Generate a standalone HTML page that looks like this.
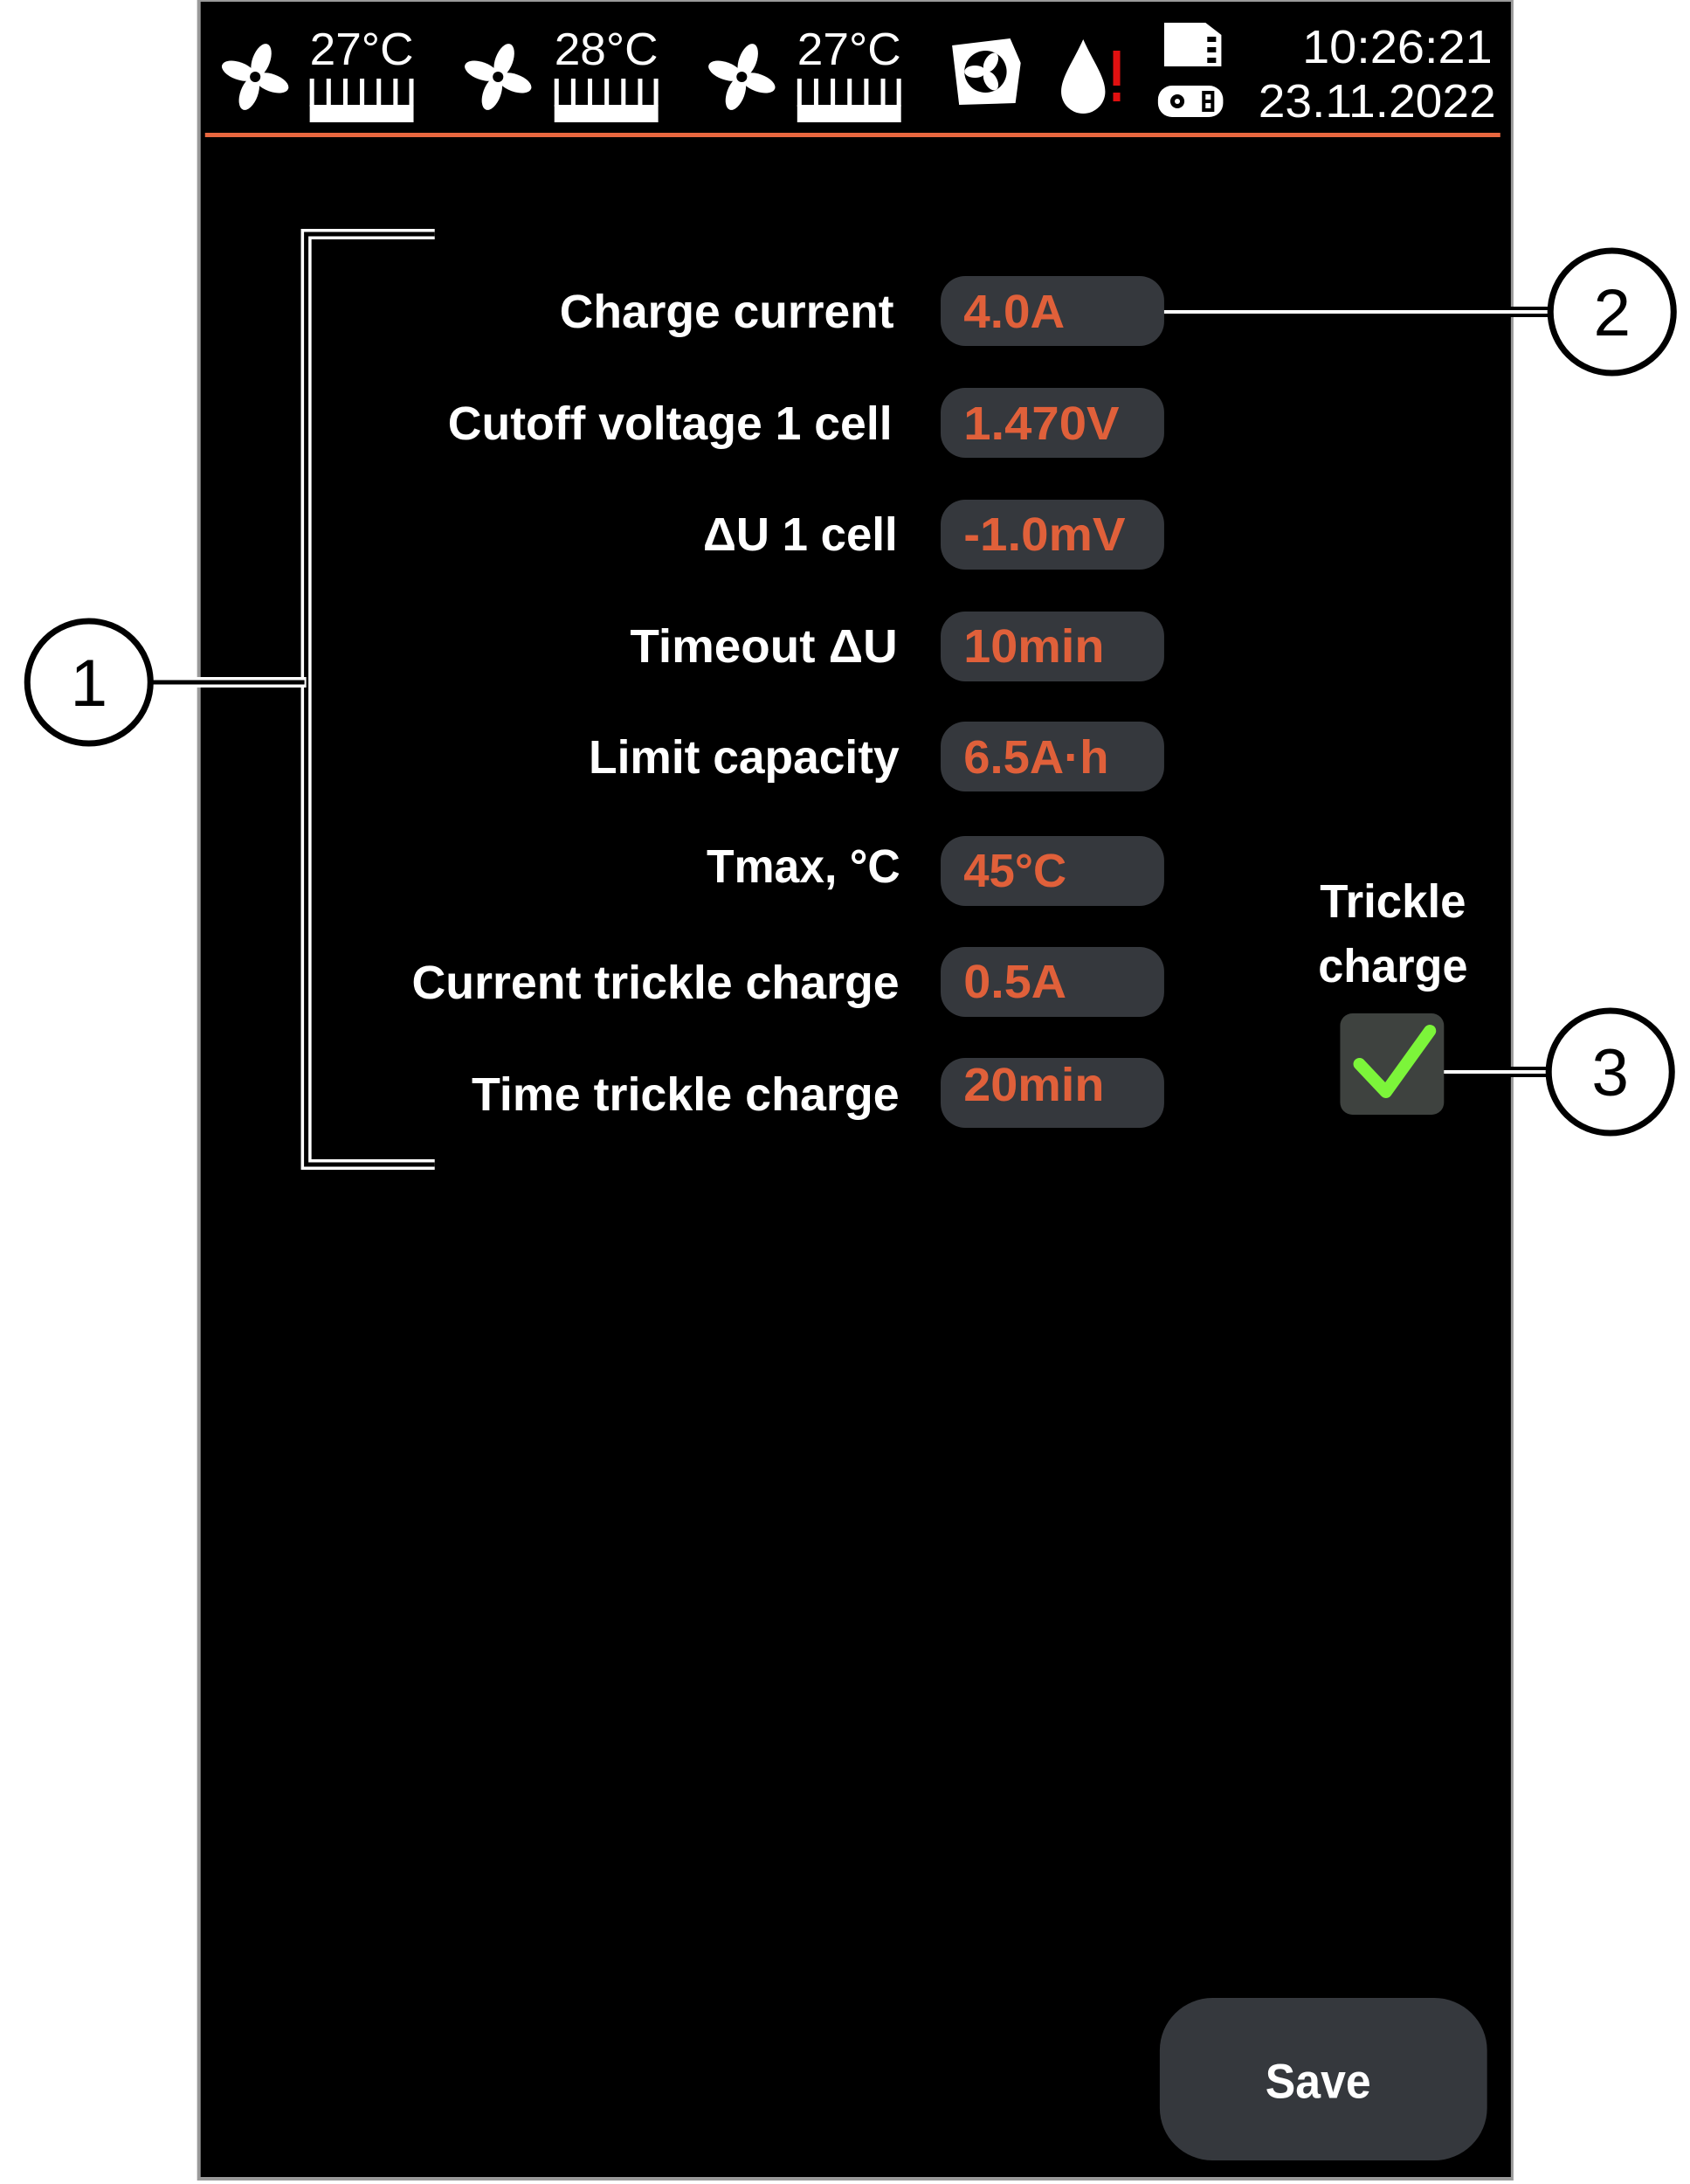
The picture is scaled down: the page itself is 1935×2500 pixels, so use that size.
<!DOCTYPE html>
<html><head><meta charset="utf-8"><style>
html,body{margin:0;padding:0;background:#fff;}
svg{display:block;}
text{font-family:"Liberation Sans",sans-serif;font-weight:bold;}
</style></head><body>
<svg width="1935" height="2500" viewBox="0 0 1935 2500" xmlns="http://www.w3.org/2000/svg">
<rect width="1935" height="2500" fill="#fff"/>
<g transform="scale(1.0075,1)">
<!-- screen -->
<rect x="224" y="0" width="1496" height="2496" fill="#9a9a9a"/>
<rect x="228" y="2" width="1489" height="2490" fill="#000"/>
<!-- orange line -->
<rect x="233" y="152" width="1472" height="5" fill="#e8673f"/>

<!-- status bar: fans -->
<g fill="#fff">
  <g transform="translate(290,88)">
    <ellipse cx="0" cy="-20" rx="10" ry="20" transform="rotate(20)"/>
    <ellipse cx="0" cy="-20" rx="10" ry="20" transform="rotate(110)"/>
    <ellipse cx="0" cy="-20" rx="10" ry="20" transform="rotate(200)"/>
    <ellipse cx="0" cy="-20" rx="10" ry="20" transform="rotate(290)"/>
    <circle r="6" fill="#000"/>
  </g>
  <g transform="translate(566,88)">
    <ellipse cx="0" cy="-20" rx="10" ry="20" transform="rotate(20)"/>
    <ellipse cx="0" cy="-20" rx="10" ry="20" transform="rotate(110)"/>
    <ellipse cx="0" cy="-20" rx="10" ry="20" transform="rotate(200)"/>
    <ellipse cx="0" cy="-20" rx="10" ry="20" transform="rotate(290)"/>
    <circle r="6" fill="#000"/>
  </g>
  <g transform="translate(843,88)">
    <ellipse cx="0" cy="-20" rx="10" ry="20" transform="rotate(20)"/>
    <ellipse cx="0" cy="-20" rx="10" ry="20" transform="rotate(110)"/>
    <ellipse cx="0" cy="-20" rx="10" ry="20" transform="rotate(200)"/>
    <ellipse cx="0" cy="-20" rx="10" ry="20" transform="rotate(290)"/>
    <circle r="6" fill="#000"/>
  </g>
</g>
<g fill="#fff">
  <text x="352" y="74" font-size="52" textLength="118" lengthAdjust="spacingAndGlyphs" style="font-weight:normal">27°C</text>
  <text x="630" y="74" font-size="52" textLength="118" lengthAdjust="spacingAndGlyphs" style="font-weight:normal">28°C</text>
  <text x="906" y="74" font-size="52" textLength="118" lengthAdjust="spacingAndGlyphs" style="font-weight:normal">27°C</text>
</g>
<!-- heater combs -->
<g fill="#fff">
  <g transform="translate(352,0)">
    <rect x="0" y="120" width="118" height="20"/>
    <rect x="0" y="90" width="5" height="32"/><rect x="19" y="90" width="5" height="32"/><rect x="38" y="90" width="5" height="32"/><rect x="57" y="90" width="5" height="32"/><rect x="76" y="90" width="5" height="32"/><rect x="95" y="90" width="5" height="32"/><rect x="113" y="90" width="5" height="32"/>
  </g>
  <g transform="translate(630,0)">
    <rect x="0" y="120" width="118" height="20"/>
    <rect x="0" y="90" width="5" height="32"/><rect x="19" y="90" width="5" height="32"/><rect x="38" y="90" width="5" height="32"/><rect x="57" y="90" width="5" height="32"/><rect x="76" y="90" width="5" height="32"/><rect x="95" y="90" width="5" height="32"/><rect x="113" y="90" width="5" height="32"/>
  </g>
  <g transform="translate(906,0)">
    <rect x="0" y="120" width="118" height="20"/>
    <rect x="0" y="90" width="5" height="32"/><rect x="19" y="90" width="5" height="32"/><rect x="38" y="90" width="5" height="32"/><rect x="57" y="90" width="5" height="32"/><rect x="76" y="90" width="5" height="32"/><rect x="95" y="90" width="5" height="32"/><rect x="113" y="90" width="5" height="32"/>
  </g>
</g>
<!-- fan in box icon -->
<g transform="translate(1120,82)">
  <path d="M-38,-30 L28,-38 L40,-10 L34,36 L-30,38 Z" fill="#fff"/>
  <circle r="24" fill="#000"/>
  <g fill="#fff">
    <ellipse cx="0" cy="-12" rx="7" ry="12" transform="rotate(30)"/>
    <ellipse cx="0" cy="-12" rx="7" ry="12" transform="rotate(150)"/>
    <ellipse cx="0" cy="-12" rx="7" ry="12" transform="rotate(270)"/>
  </g>
</g>
<!-- drop -->
<path d="M1231,45 C1220,70 1206,88 1206,105 A25,25 0 0 0 1256,105 C1256,88 1242,70 1231,45 Z" fill="#fff"/>
<rect x="1265" y="58" width="8" height="40" fill="#e01010"/>
<rect x="1265" y="106" width="8" height="10" fill="#e01010"/>
<!-- sd card -->
<path d="M1323,26 L1370,26 L1388,40 L1388,76 L1323,76 Z" fill="#fff"/>
<rect x="1372" y="42" width="10" height="6" fill="#000"/><rect x="1372" y="54" width="10" height="6" fill="#000"/><rect x="1372" y="66" width="10" height="6" fill="#000"/>
<!-- usb -->
<rect x="1316" y="98" width="74" height="36" rx="16" fill="#fff"/>
<circle cx="1338" cy="116" r="8" fill="#000"/><circle cx="1338" cy="116" r="3" fill="#fff"/>
<rect x="1366" y="104" width="14" height="24" fill="#000"/><rect x="1370" y="108" width="6" height="6" fill="#fff"/><rect x="1370" y="118" width="6" height="6" fill="#fff"/>
<!-- time -->
<text x="1696" y="72" font-size="54" text-anchor="end" fill="#fff" textLength="216" lengthAdjust="spacingAndGlyphs" style="font-weight:normal">10:26:21</text>
<text x="1700" y="134" font-size="54" text-anchor="end" fill="#fff" textLength="270" lengthAdjust="spacingAndGlyphs" style="font-weight:normal">23.11.2022</text>

<!-- bracket (double line) -->
<path d="M494,268 L348,268 L348,1333 L494,1333" fill="none" stroke="#fff" stroke-width="12"/>
<path d="M494,268 L348,268 L348,1333 L494,1333" fill="none" stroke="#000" stroke-width="5"/>
<path d="M174,781 L348,781" fill="none" stroke="#fff" stroke-width="12"/>
<path d="M160,781 L346,781" fill="none" stroke="#000" stroke-width="5"/>
<!-- connector 2 -->
<path d="M1307,357 L1760,357" stroke="#000" stroke-width="12"/>
<path d="M1312,357 L1760,357" stroke="#fff" stroke-width="4"/>
<!-- connector 3 -->
<path d="M1628,1227 L1760,1227" stroke="#000" stroke-width="12"/>
<path d="M1632,1227 L1760,1227" stroke="#fff" stroke-width="4"/>

<!-- circles -->
<g fill="#fff" stroke="#000" stroke-width="7">
  <circle cx="101" cy="781" r="70"/>
  <circle cx="1832" cy="357" r="70"/>
  <circle cx="1830" cy="1227" r="70"/>
</g>
<g fill="#000" font-size="76" text-anchor="middle">
  <text x="101" y="808" style="font-weight:normal">1</text>
  <text x="1832" y="384" style="font-weight:normal">2</text>
  <text x="1830" y="1254" style="font-weight:normal">3</text>
</g>

<!-- value boxes -->
<g fill="#35383d">
  <rect x="1069" y="316" width="254" height="80" rx="28"/>
  <rect x="1069" y="444" width="254" height="80" rx="28"/>
  <rect x="1069" y="572" width="254" height="80" rx="28"/>
  <rect x="1069" y="700" width="254" height="80" rx="28"/>
  <rect x="1069" y="826" width="254" height="80" rx="28"/>
  <rect x="1069" y="957" width="254" height="80" rx="28"/>
  <rect x="1069" y="1084" width="254" height="80" rx="28"/>
  <rect x="1069" y="1211" width="254" height="80" rx="28"/>
</g>
<!-- labels -->
<g fill="#fff" font-size="54" text-anchor="end">
  <text x="1016" y="375" textLength="380" lengthAdjust="spacingAndGlyphs">Charge current</text>
  <text x="1014" y="503" textLength="505" lengthAdjust="spacingAndGlyphs">Cutoff voltage 1 cell</text>
  <text x="1020" y="630" textLength="221" lengthAdjust="spacingAndGlyphs">ΔU 1 cell</text>
  <text x="1020" y="758" textLength="304" lengthAdjust="spacingAndGlyphs">Timeout ΔU</text>
  <text x="1022" y="885" textLength="353" lengthAdjust="spacingAndGlyphs">Limit capacity</text>
  <text x="1023" y="1010" textLength="220" lengthAdjust="spacingAndGlyphs">Tmax, °C</text>
  <text x="1022" y="1143" textLength="554" lengthAdjust="spacingAndGlyphs">Current trickle charge</text>
  <text x="1022" y="1271" textLength="486" lengthAdjust="spacingAndGlyphs">Time trickle charge</text>
</g>
<!-- values -->
<g fill="#e0603a" font-size="54">
  <text x="1095" y="375" textLength="115" lengthAdjust="spacingAndGlyphs">4.0A</text>
  <text x="1095" y="503" textLength="177" lengthAdjust="spacingAndGlyphs">1.470V</text>
  <text x="1095" y="630" textLength="184" lengthAdjust="spacingAndGlyphs">-1.0mV</text>
  <text x="1095" y="758" textLength="160" lengthAdjust="spacingAndGlyphs">10min</text>
  <text x="1095" y="885" textLength="165" lengthAdjust="spacingAndGlyphs">6.5A·h</text>
  <text x="1095" y="1015" textLength="117" lengthAdjust="spacingAndGlyphs">45°C</text>
  <text x="1095" y="1142" textLength="117" lengthAdjust="spacingAndGlyphs">0.5A</text>
  <text x="1095" y="1260" textLength="160" lengthAdjust="spacingAndGlyphs">20min</text>
</g>

<!-- trickle charge -->
<g fill="#fff" font-size="54" text-anchor="middle">
  <text x="1583" y="1050" textLength="166" lengthAdjust="spacingAndGlyphs">Trickle</text>
  <text x="1583" y="1124" textLength="170" lengthAdjust="spacingAndGlyphs">charge</text>
</g>
<rect x="1523" y="1160" width="118" height="116" rx="14" fill="#3e423f"/>
<path d="M1545,1218 L1575,1250 L1625,1180" fill="none" stroke="#7cf53a" stroke-width="14" stroke-linecap="round" stroke-linejoin="round"/>

<!-- save button -->
<rect x="1318" y="2287" width="372" height="186" rx="60" fill="#35383d"/>
<text x="1498" y="2382" fill="#fff" font-size="56" text-anchor="middle" dominant-baseline="central" textLength="120" lengthAdjust="spacingAndGlyphs">Save</text>
</g>
</svg>
</body></html>
